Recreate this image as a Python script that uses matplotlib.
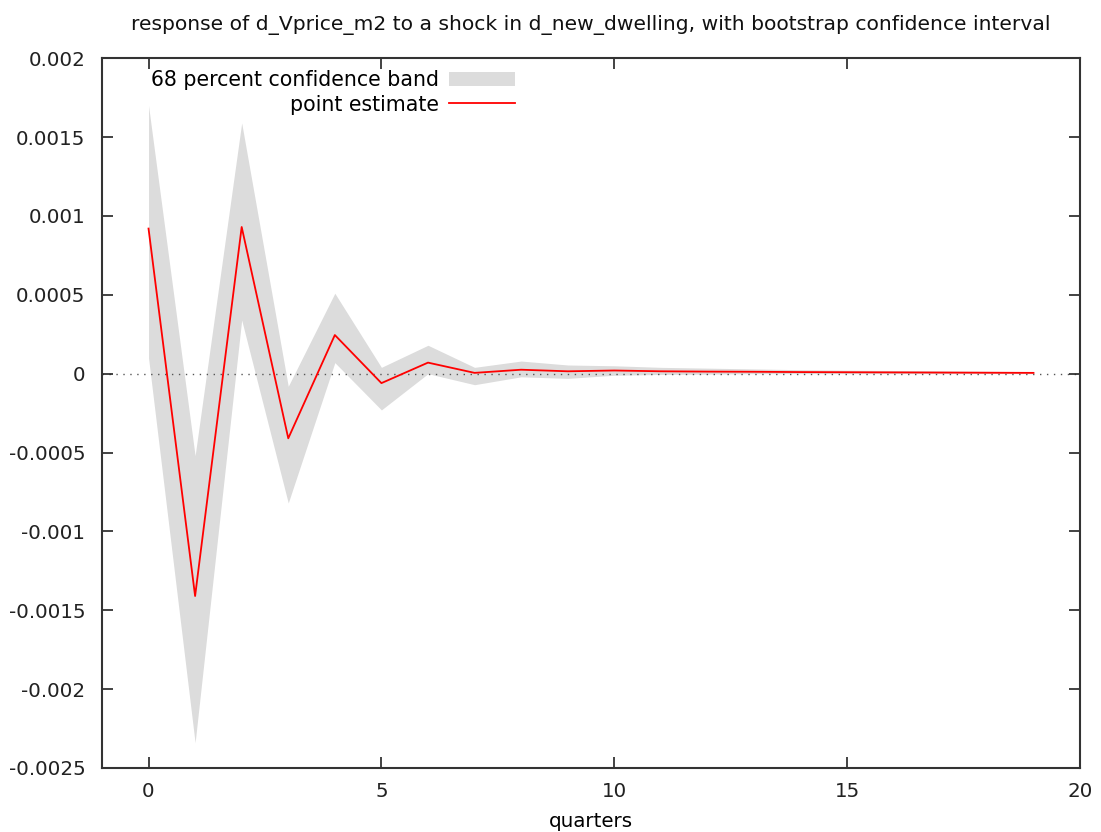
import matplotlib
matplotlib.use("Agg")
import matplotlib.pyplot as plt
from matplotlib.ticker import FuncFormatter

quarters = list(range(20))
point_estimate = [0.00092, -0.00141, 0.00093, -0.00041, 0.000245, -0.00006, 0.00007,
                  0.000005, 0.000025, 0.000015, 0.00002, 0.000015, 0.000013, 0.000012,
                  0.00001, 0.000009, 0.000008, 0.000007, 0.000006, 0.000005]
band_upper = [0.00170, -0.00052, 0.00159, -0.00008, 0.00051, 0.00004, 0.00018, 0.00004,
              0.00008, 0.000055, 0.00005, 0.00004, 0.000035, 0.00003, 0.000025,
              0.000022, 0.00002, 0.000018, 0.000015, 0.000012]
band_lower = [0.0001, -0.00234, 0.00034, -0.00082, 0.00007, -0.00023, 0.0, -0.00007,
              -0.00002, -0.00003, -0.00001, -0.000005, -0.000003, 0.0, 0.0, 0.0, 0.0,
              0.0, 0.0, 0.0]
y_ticks = [-0.0025, -0.002, -0.0015, -0.001, -0.0005, 0, 0.0005, 0.001, 0.0015, 0.002]
x_ticks = [0, 5, 10, 15, 20]

plt.rcParams['font.family'] = ['DejaVu Sans']
fig = plt.figure(figsize=(11.01, 8.32), dpi=100)
ax = fig.add_axes([0.0926, 0.077, 0.8884, 0.853])

ax.fill_between(quarters, band_lower, band_upper, color='#dcdcdc', linewidth=0,
                label='68 percent confidence band')
ax.plot(quarters, point_estimate, color='#ff0000', linewidth=1.3, label='point estimate')
ax.axhline(0, color='#555555', linestyle=(0, (1, 4)), linewidth=1.0, zorder=1)

ax.set_xlim(-1, 20)
ax.set_ylim(-0.0025, 0.002)
ax.set_xticks(x_ticks)
ax.set_yticks(y_ticks)

def fmt(v, pos):
    if abs(v) < 1e-12:
        return '0'
    s = ('%.4f' % v).rstrip('0').rstrip('.')
    return s
ax.yaxis.set_major_formatter(FuncFormatter(fmt))

ax.tick_params(direction='in', length=8, width=1.2, top=True, right=True,
               labelsize=14.3, colors='#222222')
ax.tick_params(axis='y', pad=12)
ax.tick_params(axis='x', pad=10)
for sp in ax.spines.values():
    sp.set_color('#333333')
    sp.set_linewidth(1.5)

ax.set_title('response of d_Vprice_m2 to a shock in d_new_dwelling, with bootstrap confidence interval',
             fontsize=14.6, pad=20, color='#111111')
ax.set_xlabel('quarters', fontsize=14.3, labelpad=8)

leg = ax.legend(loc='upper left', bbox_to_anchor=(0.035, 1.003), frameon=False, markerfirst=False,
                fontsize=14.8, handlelength=3.2, handletextpad=0.5, labelspacing=0.2,
                borderaxespad=0.3)

fig.savefig('out.png', dpi=100)
